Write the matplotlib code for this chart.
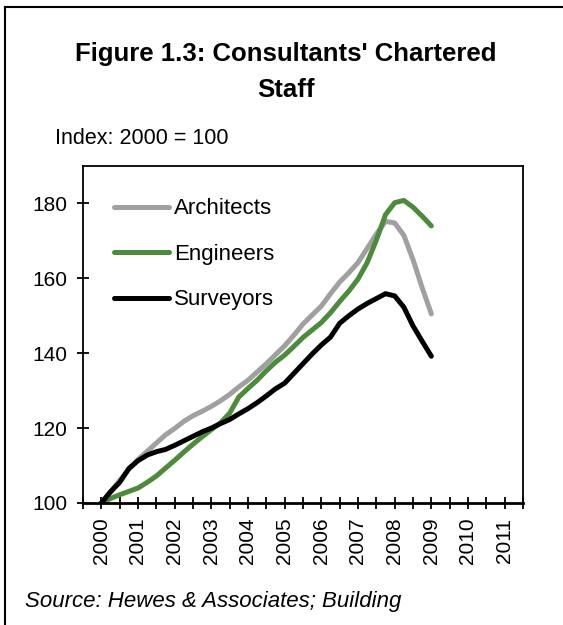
import numpy as np
import matplotlib.pyplot as plt
from matplotlib.lines import Line2D

# quarterly index values, 2000 Q1 = 100
years = [2000 + 0.25 * i for i in range(37)]
architects = [100, 103, 106, 109, 111.6, 113.8, 116, 118.2, 119.9, 121.8, 123.3, 124.5,
              125.8, 127.3, 129, 131, 132.8, 135, 137.2, 139.6, 142, 144.8, 147.8, 150.2,
              152.6, 155.9, 159, 161.5, 164.2, 168, 171.8, 175.2, 174.8, 171.5, 165, 157.5, 150.5]
engineers = [100, 101.2, 102.2, 103.1, 104, 105.5, 107.2, 109.3, 111.4, 113.6, 115.7, 117.7,
             119.6, 121.4, 124, 128.3, 130.6, 132.8, 135.3, 137.6, 139.5, 141.8, 144.2, 146.2,
             148.2, 150.8, 153.8, 156.6, 159.8, 164.2, 170.2, 177, 180.2, 180.8, 179, 176.6, 174]
surveyors = [100, 103, 105.5, 109.2, 111.3, 112.8, 113.7, 114.3, 115.4, 116.6, 117.8, 119.0,
             120.0, 121.2, 122.3, 123.8, 125.2, 126.8, 128.6, 130.5, 132.0, 134.6, 137.2, 139.8,
             142.2, 144.3, 148.0, 150.0, 151.8, 153.3, 154.6, 155.9, 155.3, 152.3, 147.3, 143.2, 139.2]
year_labels = [str(y) for y in range(2000, 2012)]
y_ticks = [100, 120, 140, 160, 180]

plt.rcParams['font.family'] = ['Liberation Sans', 'DejaVu Sans']

fig = plt.figure(figsize=(5.63, 6.25), dpi=100)
ax = fig.add_axes([83 / 563, 1 - 503 / 625, (523 - 83) / 563, (503 - 166) / 625])

ax.plot(years, architects, color='#a0a0a0', lw=3.6, label='Architects', solid_capstyle='round')
ax.plot(years, engineers, color='#4b8b3b', lw=3.6, label='Engineers', solid_capstyle='round')
ax.plot(years, surveyors, color='black', lw=3.6, label='Surveyors', solid_capstyle='round')

ax.set_xlim(1999.5, 2011.5)
ax.set_ylim(100, 190)
ax.set_yticks(y_ticks)
ax.set_xticks(range(2000, 2012))
ax.set_xticklabels(year_labels, rotation=90)
ax.set_xticks(np.arange(1999.5, 2011.6, 1.0), minor=True)
ax.tick_params(axis='both', which='both', direction='inout', length=9, width=1.3,
               labelsize=15, colors='black')
ax.tick_params(axis='x', pad=6)
ax.tick_params(axis='y', pad=7)
for s in ax.spines.values():
    s.set_linewidth(1.3)
ax.spines['bottom'].set_linewidth(2)

leg = ax.legend(loc='upper left', frameon=False, fontsize=16, handlelength=2.5,
                handletextpad=0.2, labelspacing=1.1, borderaxespad=0,
                bbox_to_anchor=(0.05, 0.93))

fig.text(0.508, 0.913, "Figure 1.3: Consultants' Chartered", ha='center', va='center',
         fontsize=18.5, fontweight='bold')
fig.text(0.508, 0.856, "Staff", ha='center', va='center', fontsize=18.5, fontweight='bold')
fig.text(0.098, 0.779, "Index: 2000 = 100", ha='left', va='center', fontsize=15.5)
fig.text(0.045, 0.038, "Source: Hewes & Associates; Building", ha='left', va='center',
         fontsize=16, style='italic')

# frame of the original figure box (top and left edges visible)
fig.add_artist(Line2D([5 / 563, 1], [1 - 7 / 625, 1 - 7 / 625], color='black', lw=1.5,
                      transform=fig.transFigure))
fig.add_artist(Line2D([5 / 563, 5 / 563], [0, 1 - 7 / 625], color='black', lw=1.5,
                      transform=fig.transFigure))

fig.savefig('out.png', dpi=100)
